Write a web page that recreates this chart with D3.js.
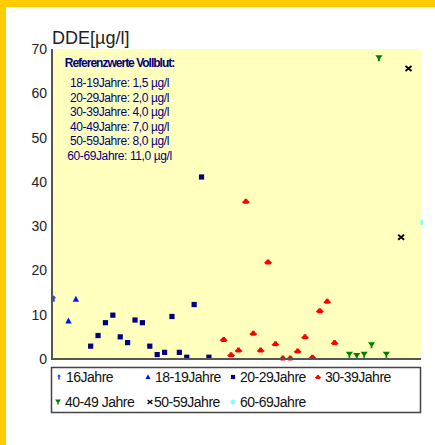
<!DOCTYPE html>
<html>
<head>
<meta charset="utf-8">
<script src="https://cdn.jsdelivr.net/npm/d3@7"></script>
<style>
  body { margin: 0; background: #fff; }
  svg { display: block; font-family: "Liberation Sans", Arial, sans-serif; }
</style>
</head>
<body>
<div id="chart"></div>
<script>
// series: x = sample number, y = DDE in µg/l
let seriesNames = ['16Jahre', '18-19Jahre', '20-29Jahre', '30-39Jahre', '40-49 Jahre', '50-59Jahre', '60-69Jahre'];
let x16 = [0];
let y16 = [13.6];
let x18 = [2, 3];
let y18 = [8.6, 13.5];
let x20 = [5, 6, 7, 8, 9, 10, 11, 12, 13, 14, 15, 16, 17, 18, 19, 20, 21];
let y20 = [2.9, 5.3, 8.2, 9.9, 5.0, 3.7, 8.8, 8.2, 2.9, 1.0, 1.5, 9.6, 1.5, 0.4, 12.3, 41.1, 0.4];
let x30 = [23, 24, 25, 26, 27, 28, 29, 30, 31, 32, 33, 34, 35, 36, 37, 38];
let y30 = [4.4, 0.95, 2.0, 35.6, 5.8, 2.0, 21.9, 3.4, 0.2, 0.2, 1.8, 5.0, 0.4, 10.9, 13.0, 3.7];
let x40 = [40, 41, 42, 43, 44, 45];
let y40 = [0.95, 0.65, 0.95, 3.1, 67.9, 0.95];
let x50 = [47, 48];
let y50 = [27.5, 65.6];
let x60 = [50];
let y60 = [30.9];
let yTicks = [0, 10, 20, 30, 40, 50, 60, 70];

// reference box
let refTitle = 'Referenzwerte Vollblut:';
let refLines = ['18-19Jahre: 1,5 µg/l', '20-29Jahre: 2,0 µg/l', '30-39Jahre: 4,0 µg/l',
  '40-49Jahre: 7,0 µg/l', '50-59Jahre: 8,0 µg/l', '60-69Jahre: 11,0 µg/l'];

let xs = [x16, x18, x20, x30, x40, x50, x60];
let ys = [y16, y18, y20, y30, y40, y50, y60];
let colors = ['#2244ff', '#0018f0', '#000080', '#ff0000', '#008000', '#000000', '#80ffff'];

// marker shapes
let shapes = [
  'M0,-3.5 L2.5,-0.5 L1,-0.5 L1,3 L-1,3 L-1,-0.5 L-2.5,-0.5 Z',
  'M0,-3.5 L3.2,2.5 L-3.2,2.5 Z',
  'M-2.6,-2.6 L2.6,-2.6 L2.6,2.6 L-2.6,2.6 Z',
  'M-4,0.8 L-1.6,-1.4 L-1.2,-2.6 L1.2,-2.6 L1.6,-1.4 L4,0.8 L2,2.4 L-2,2.4 Z',
  'M-3.6,-3 L3.6,-3 L0.9,0.8 L0.9,3 L-0.9,3 L-0.9,0.8 Z',
  null,
  null
];

let W = 435, H = 445;
let plot = { left: 52, right: 421, top: 49, bottom: 359 };

let svg = d3.select('#chart').append('svg')
  .attr('width', W)
  .attr('height', H);

// gold frame (top and left only)
svg.append('rect').attr('x', 0).attr('y', 0).attr('width', W).attr('height', 7).attr('fill', '#ffcc00');
svg.append('rect').attr('x', 0).attr('y', 0).attr('width', 6).attr('height', H).attr('fill', '#ffcc00');

var x = d3.scaleLinear().domain([0, 50]).range([53.7, 423.3]);
var y = d3.scaleLinear().domain([0, 70]).range([plot.bottom, plot.top]);

// plot area
svg.append('rect')
  .attr('x', plot.left).attr('y', plot.top)
  .attr('width', plot.right - plot.left)
  .attr('height', plot.bottom - plot.top)
  .attr('fill', '#ffffbe');

// title
svg.append('text')
  .attr('x', 52).attr('y', 44)
  .attr('font-size', 18)
  .attr('fill', '#222')
  .text('DDE[µg/l]');

// y axis labels
var yAxis = svg.append('g')
  .attr('transform', 'translate(' + plot.left + ',0)')
  .call(d3.axisLeft(y).tickValues(yTicks).tickSize(0).tickPadding(5));
yAxis.select('.domain').remove();
yAxis.selectAll('text')
  .attr('font-size', 14)
  .attr('font-family', '"Liberation Sans", Arial, sans-serif')
  .attr('fill', '#222');

// reference values text
var ref = svg.append('g').attr('fill', '#000080').attr('text-anchor', 'middle');
ref.append('text')
  .attr('x', 119.5).attr('y', 67)
  .attr('font-size', 12).attr('font-weight', 'bold')
  .attr('letter-spacing', -1)
  .text(refTitle);
ref.selectAll('.refline')
  .data(refLines)
  .enter().append('text')
  .attr('class', 'refline')
  .attr('x', 119.5)
  .attr('y', (d, i) => 87 + i * 14.5)
  .attr('font-size', 12)
  .attr('letter-spacing', -0.4)
  .text(d => d);

// points
var clip = svg.append('clipPath').attr('id', 'clip')
  .append('rect').attr('x', plot.left - 4).attr('y', 0)
  .attr('width', plot.right - plot.left + 6).attr('height', plot.bottom + 2);

var pts = svg.append('g').attr('clip-path', 'url(#clip)');

function drawMarker(g, k) {
  if (k == 5) {
    g.append('path')
      .attr('d', 'M-3,-2.5 L3,2.5 M-3,2.5 L3,-2.5')
      .attr('stroke', colors[k]).attr('stroke-width', 1.8).attr('fill', 'none');
  } else if (k == 6) {
    g.append('circle').attr('r', 3).attr('fill', colors[k]);
  } else {
    g.append('path').attr('d', shapes[k]).attr('fill', colors[k]);
  }
}

xs.forEach((xv, k) => {
  xv.forEach((v, i) => {
    var g = pts.append('g')
      .attr('transform', 'translate(' + x(v) + ',' + y(ys[k][i]) + ')');
    drawMarker(g, k);
  });
});

// axis lines
svg.append('line')
  .attr('x1', plot.left).attr('x2', plot.left)
  .attr('y1', plot.top).attr('y2', plot.bottom)
  .attr('stroke', '#555').attr('stroke-width', 2);
svg.append('line')
  .attr('x1', plot.left - 1).attr('x2', plot.right)
  .attr('y1', plot.bottom).attr('y2', plot.bottom)
  .attr('stroke', '#555').attr('stroke-width', 2);

// legend
var legend = svg.append('g');
legend.append('rect')
  .attr('x', 51.5).attr('y', 367.5)
  .attr('width', 369).attr('height', 45)
  .attr('fill', '#fff').attr('stroke', '#444').attr('stroke-width', 1.5);

var colX = [59, 148, 233, 318];
seriesNames.forEach((name, k) => {
  var col = k < 4 ? k : k - 4;
  var row = k < 4 ? 0 : 1;
  var mx = colX[col] + (k == 4 ? -1 : 0) + (k == 5 ? 2 : 0);
  var my = 377 + row * 25;
  var g = legend.append('g')
    .attr('transform', 'translate(' + mx + ',' + my + ') scale(0.8)');
  drawMarker(g, k);
  legend.append('text')
    .attr('x', mx + (k == 5 ? 4 : 7))
    .attr('y', my + 5)
    .attr('font-size', 14)
    .attr('letter-spacing', -0.5)
    .attr('fill', '#111')
    .text(name);
});
</script>
</body>
</html>
